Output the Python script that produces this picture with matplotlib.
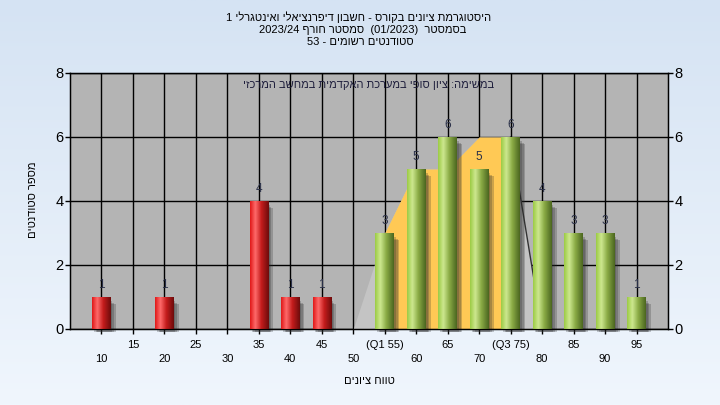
import re
import numpy as np
import matplotlib
matplotlib.use("Agg")
import matplotlib.pyplot as plt
from matplotlib.colors import LinearSegmentedColormap, to_rgb
from matplotlib.patches import Rectangle

plt.rcParams['font.family'] = ['Liberation Sans', 'DejaVu Sans']

# Data
red_x = [10, 20, 35, 40, 45]
red_counts = [1, 1, 4, 1, 1]
green_x = [55, 60, 65, 70, 75, 80, 85, 90, 95]
green_counts = [3, 5, 6, 5, 6, 4, 3, 3, 1]

# background area (quartile band)
area_x = [50, 55, 60, 65, 70, 75, 80]
area_y = [0, 3, 5, 5, 6, 6, 0]
q1, q3 = 55, 75

tick_values = list(range(10, 100, 5))
tick_names = {55: '(Q1 55)', 75: '(Q3 75)'}

title_1 = "היסטוגרמת ציונים בקורס - חשבון דיפרנציאלי ואינטגרלי 1"
title_2 = "בסמסטר  (01/2023)  סמסטר חורף 2023/24"
title_3 = "סטודנטים רשומים - 53"
note = "במשימה: ציון סופי במערכת האקדמית במחשב המרכזי"
x_title = "טווח ציונים"
y_title = "מספר סטודנטים"


def rtl(s):
    # matplotlib has no bidi, so build the visual order by hand
    out = s[::-1]
    out = re.sub(r'[0-9][0-9/.]*', lambda m: m.group(0)[::-1], out)
    return out.translate(str.maketrans('()', ')('))


fig = plt.figure(figsize=(7.2, 4.05), dpi=100)

# light blue figure background gradient
bg = fig.add_axes([0, 0, 1, 1], zorder=-10)
top_c = np.array(to_rgb('#d5e3f3'))
bot_c = np.array(to_rgb('#f0f6fd'))
t = np.linspace(0, 1, 256)[:, None]
grad = top_c * (1 - t) + bot_c * t
bg.imshow(grad[:, None, :].repeat(2, axis=1), aspect='auto', extent=[0, 1, 0, 1])
bg.axis('off')

ax = fig.add_axes([70 / 720, 1 - 329 / 405, 598 / 720, 256 / 405])
ax.set_facecolor('#b4b4b4')

# area behind the bars
ax_arr = np.array(area_x, dtype=float)
ay_arr = np.array(area_y, dtype=float)
inside = (ax_arr >= q1) & (ax_arr <= q3)
ax.fill_between(ax_arr, ay_arr, color='#c4c4c4', lw=0, zorder=1.5)
ax.fill_between(ax_arr[inside], ay_arr[inside], color='#ffc955', lw=0, zorder=1.6)
ax.plot(ax_arr[ax_arr >= q3], ay_arr[ax_arr >= q3], color='#333333', lw=1, zorder=1.7)

red_cmap = LinearSegmentedColormap.from_list(
    'redbar', [(0, '#e01818'), (0.28, '#ff6a6a'), (0.6, '#c41c1c'), (1, '#6e0c0c')])
green_cmap = LinearSegmentedColormap.from_list(
    'greenbar', [(0, '#9ccb45'), (0.28, '#cde88f'), (0.6, '#8aab45'), (1, '#4b6620')])
strip = np.linspace(0, 1, 64)[None, :]


def draw_bars(xs, vals, width, cmap):
    bars = ax.bar(xs, vals, width=width, color='none', lw=0, zorder=3)
    for b, v in zip(bars, vals):
        x0, w, h = b.get_x(), b.get_width(), b.get_height()
        # soft drop shadow to the right
        for k, off in enumerate([0.3, 0.55, 0.8]):
            ax.add_patch(Rectangle((x0 + off, -0.08), w, h - 0.05 * (k + 1),
                                   color='#2a2a2a', alpha=0.24, lw=0,
                                   zorder=2.5, clip_on=False))
        im = ax.imshow(strip, cmap=cmap, aspect='auto',
                       extent=[x0, x0 + w, 0, h], zorder=3, interpolation='bilinear')
        im.set_clip_path(b)
        ax.annotate(str(v), (x0 + w / 2, h), xytext=(0, 4), textcoords='offset points',
                    ha='center', va='bottom', fontsize=8.5, color='#2a3048', zorder=4)


draw_bars(red_x, red_counts, 2.9, red_cmap)
draw_bars(green_x, green_counts, 3.0, green_cmap)

ax.set_xlim(5, 100)
ax.set_ylim(0, 8)

labels = []
for v in tick_values:
    name = tick_names.get(v, str(v))
    labels.append(name if v % 10 else '\n' + name)
ax.set_xticks(tick_values)
ax.set_xticklabels(labels, fontsize=8)
for lab in ax.get_xticklabels():
    lab.set_linespacing(1.55)
ax.set_yticks([0, 2, 4, 6, 8])
ax.tick_params(axis='x', length=3.6, width=1, pad=4, colors='black')
ax.tick_params(axis='y', length=3.6, width=1, pad=1, labelsize=10.5)
ax.grid(True, color='black', lw=1, zorder=1)
ax.set_axisbelow(True)
for s in ax.spines.values():
    s.set_color('black')
    s.set_linewidth(1)

ax2 = ax.twinx()
ax2.set_ylim(0, 8)
ax2.set_yticks([0, 2, 4, 6, 8])
ax2.tick_params(axis='y', length=3.6, width=1, pad=1, labelsize=10.5)

ax.text(0.5, 0.953, rtl(note), transform=ax.transAxes, ha='center', va='center',
        fontsize=8, color='#1e1e3c', zorder=5)

fig.text(359 / 720, 1 - 17 / 405, rtl(title_1), ha='center', va='center', fontsize=8)
fig.text(363 / 720, 1 - 30 / 405, rtl(title_2), ha='center', va='center', fontsize=8)
fig.text(360 / 720, 1 - 42 / 405, rtl(title_3), ha='center', va='center', fontsize=8)
fig.text(369 / 720, 1 - 381 / 405, rtl(x_title), ha='center', va='center', fontsize=8)
fig.text(33 / 720, 1 - 200 / 405, rtl(y_title), ha='center', va='center', fontsize=8,
         rotation=90)

fig.savefig('out.png', dpi=100)
